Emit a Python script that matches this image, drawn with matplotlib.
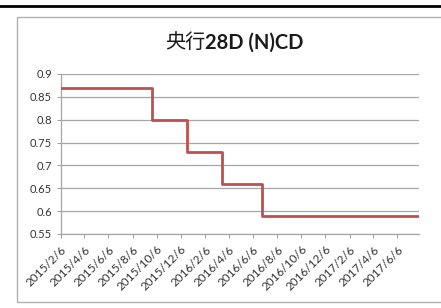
import numpy as np
import pandas as pd
import matplotlib
matplotlib.use("Agg")
import matplotlib.pyplot as plt
from matplotlib.patches import Rectangle
from matplotlib.lines import Line2D

# 央行28D (N)CD 利率变化
change_dates = ["2015-02-06", "2015-09-24", "2015-12-21", "2016-03-20", "2016-06-28", "2017-07-31"]
rates = [0.87, 0.80, 0.73, 0.66, 0.59, 0.59]

tick_dates = pd.date_range("2015-02-01", periods=15, freq="2MS") + pd.Timedelta(days=5)
tick_labels = [f"{d.year}/{d.month}/{d.day}" for d in tick_dates]
y_ticks = [0.55, 0.6, 0.65, 0.7, 0.75, 0.8, 0.85, 0.9]
y_labels = ["0.55", "0.6", "0.65", "0.7", "0.75", "0.8", "0.85", "0.9"]

W, H = 441, 308
fig = plt.figure(figsize=(W / 100, H / 100), dpi=100)

# 外框和顶部黑线
fig.add_artist(Line2D([0, 1], [1 - 6 / H, 1 - 6 / H], color="black", lw=2.0))
fig.add_artist(Rectangle((17 / W, 1 - 302 / H), 1.0, (302 - 17) / H,
                         fill=False, edgecolor="#b0b0b0", lw=1.0, clip_on=False))

ax = fig.add_axes([61 / W, 1 - 234 / H, (419 - 61) / W, (234 - 74) / H])

x = pd.to_datetime(change_dates)
ax.plot(x, rates, drawstyle="steps-post", color="#c0504d", lw=2.0, zorder=3)

ax.set_xlim(pd.Timestamp("2015-02-06"), pd.Timestamp("2017-07-31"))
ax.set_ylim(0.55, 0.9)
ax.set_yticks(y_ticks)
ax.set_yticklabels(y_labels)
ax.set_xticks(tick_dates)
ax.set_xticklabels(tick_labels, rotation=45, ha="right", rotation_mode="anchor")

ax.grid(axis="y", color="#a6a6a6", lw=0.9)
ax.set_axisbelow(True)
for s in ["top", "right"]:
    ax.spines[s].set_visible(False)
for s in ["left", "bottom"]:
    ax.spines[s].set_color("#a6a6a6")
    ax.spines[s].set_linewidth(0.9)
ax.tick_params(axis="both", colors="#a6a6a6", labelcolor="#333333", labelsize=8,
               length=3, width=0.8)
ax.tick_params(axis="x", labelsize=8.5, pad=4)
for lab in ax.get_xticklabels() + ax.get_yticklabels():
    lab.set_family(["Lato", "DejaVu Sans"])

# 标题：中文常规，英文数字加粗
fig.text(205 / W, 1 - 43 / H, "央行", ha="right", va="center", fontsize=14.5,
         family=["Noto Sans CJK SC", "DejaVu Sans"], color="#1a1a1a")
fig.text(205 / W, 1 - 43 / H, "28D (N)CD", ha="left", va="center", fontsize=14.5,
         family=["Lato", "DejaVu Sans"], weight="bold", color="#1a1a1a")

fig.savefig("out.png", dpi=100)
